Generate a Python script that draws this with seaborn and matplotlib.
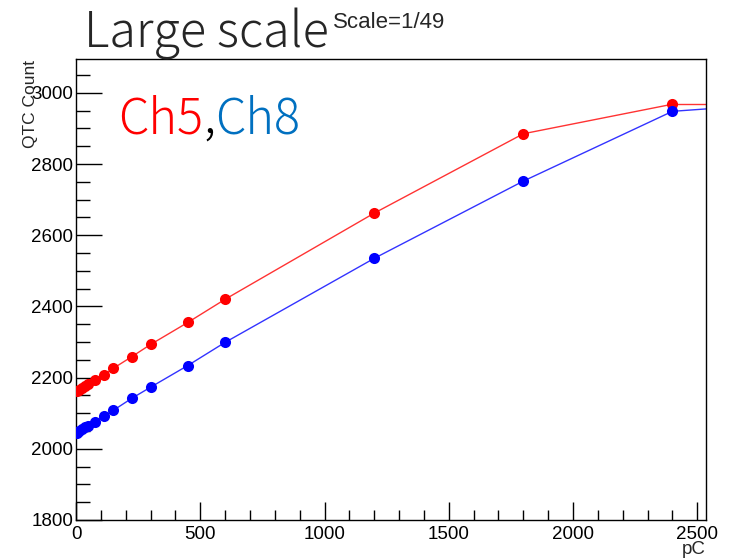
import matplotlib
matplotlib.use("Agg")
import matplotlib.pyplot as plt
import seaborn as sns
import pandas as pd
from matplotlib.ticker import MultipleLocator

# ---- data ----
charge_pc = [6, 12.5, 25, 37.5, 50, 75, 112.5, 150, 225, 300, 450, 600, 1200, 1800, 2400]
ch5_counts = [2162, 2165, 2171, 2177, 2183, 2193, 2207, 2226, 2259, 2293, 2355, 2420, 2662, 2885, 2968]
ch8_counts = [2045, 2049, 2055, 2060, 2065, 2076, 2092, 2108, 2142, 2173, 2234, 2299, 2535, 2752, 2948]
# line continuation past the last point, up to the frame edge
tail_x = [2400, 2540]
ch5_tail = [2968, 2968]
ch8_tail = [2948, 2955]

x_ticks = [0, 500, 1000, 1500, 2000, 2500]
y_ticks = [1800, 2000, 2200, 2400, 2600, 2800, 3000]

sns.set_theme(style="white")
plt.rcParams['font.family'] = ['Liberation Sans', 'DejaVu Sans']

fig = plt.figure(figsize=(7.38, 5.59), dpi=100)
ax = fig.add_axes([76/738, 1-520/559, (706-76)/738, (520-59)/559])

df5 = pd.DataFrame({"x": charge_pc, "y": ch5_counts})
df8 = pd.DataFrame({"x": charge_pc, "y": ch8_counts})
t5 = pd.DataFrame({"x": tail_x, "y": ch5_tail})
t8 = pd.DataFrame({"x": tail_x, "y": ch8_tail})

for d, t, c in [(df5, t5, "#ff0000"), (df8, t8, "#0000ff")]:
    sns.lineplot(data=d, x="x", y="y", ax=ax, color=c, lw=1.0, sort=False,
                 estimator=None, alpha=0.8)
    sns.lineplot(data=t, x="x", y="y", ax=ax, color=c, lw=1.0, sort=False,
                 estimator=None, alpha=0.8)
    sns.scatterplot(data=d, x="x", y="y", ax=ax, color=c, s=64, marker="o",
                    edgecolor=c, linewidth=0, zorder=3)

ax.set_xlim(0, 2535)
ax.set_ylim(1800, 3095)
ax.set_xticks(x_ticks)
ax.set_yticks(y_ticks)
ax.xaxis.set_minor_locator(MultipleLocator(100))
ax.yaxis.set_minor_locator(MultipleLocator(50))
ax.tick_params(axis="both", which="both", direction="in", top=False, right=False,
               bottom=True, left=True,
               labelsize=13.5, colors="black", width=1.0)
ax.tick_params(axis="y", which="major", length=19, pad=2)
ax.tick_params(axis="y", which="minor", length=10)
ax.tick_params(axis="x", which="major", length=13, pad=4)
ax.tick_params(axis="x", which="minor", length=7)
for s in ax.spines.values():
    s.set_color("black")
    s.set_linewidth(1.0)
ax.set_xlabel("")
ax.set_ylabel("")
ax.grid(False)

fig.text(31/738, 1-60/559, "QTC Count", rotation=90, ha="center", va="top", fontsize=12.5)
fig.text(706/738, 1-550/559, "pC", ha="right", va="center", fontsize=13.5)

cjk = ['Noto Sans CJK JP', 'DejaVu Sans']
fig.text(84/738, 1-47/559, "Large scale", fontsize=35, family=cjk, weight="light",
         va="baseline", ha="left")
fig.text(333/738, 1-28/559, "Scale=1/49", fontsize=16, va="baseline", ha="left")

fig.canvas.draw()
r = fig.canvas.get_renderer()
xpos = 118
for txt, col in [("Ch5", "#ff0000"), (",", "#000000"), ("Ch8", "#0070c0")]:
    t = fig.text(xpos/738, 1-133/559, txt, fontsize=35, family=cjk, weight="light",
                 color=col, va="baseline", ha="left")
    bb = t.get_window_extent(renderer=r)
    xpos = bb.x1

fig.savefig("out.png", dpi=100)
